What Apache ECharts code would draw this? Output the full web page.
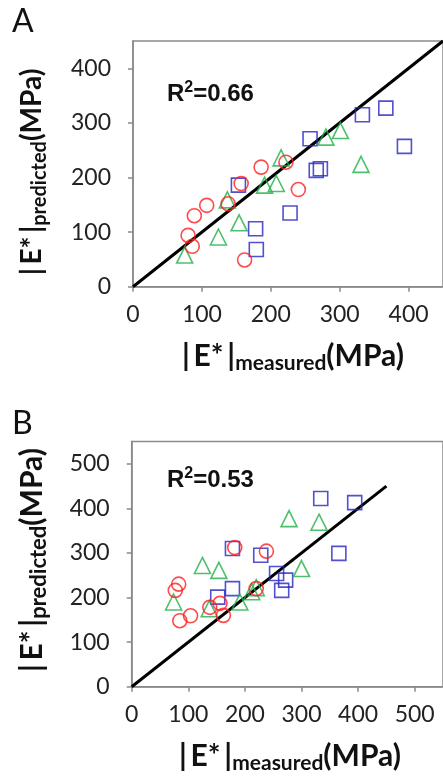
<!DOCTYPE html>
<html><head><meta charset="utf-8">
<script src="https://cdn.jsdelivr.net/npm/echarts@6/dist/echarts.min.js"></script>
<style>html,body{margin:0;padding:0;background:#fff}#c{width:443px;height:777px}</style>
</head><body><div id="c"></div>
<script>
// ---- data ----
const ticksA = [0, 100, 200, 300, 400];
const ticksB = [0, 100, 200, 300, 400, 500];
const identityLine = [0, 450];

// Panel A
const blueMeasA = [153, 178, 179, 228, 257, 266, 272, 333, 367, 394];
const bluePredA = [186, 106, 68, 135, 271, 213, 216, 315, 327, 257];
const greenMeasA = [75, 124, 137, 154, 191, 208, 215, 280, 301, 331];
const greenPredA = [58, 91, 159, 117, 186, 189, 236, 274, 286, 224];
const redMeasA = [80, 86, 89, 107, 138, 157, 162, 186, 222, 240];
const redPredA = [94, 74, 130, 149, 152, 189, 49, 219, 228, 178];

// Panel B
const blueMeasB = [152, 178, 178, 228, 256, 265, 272, 334, 366, 394];
const bluePredB = [201, 220, 310, 295, 254, 216, 239, 422, 299, 413];
const greenMeasB = [74, 125, 137, 154, 191, 212, 220, 278, 300, 331];
const greenPredB = [190, 272, 175, 261, 190, 213, 222, 377, 265, 369];
const redMeasB = [77, 83, 85, 104, 138, 156, 162, 182, 220, 238];
const redPredB = [216, 230, 148, 159, 178, 187, 160, 312, 220, 304];

const zip = (a, b) => a.map((v, i) => [v, b[i]]);

const BLUE = '#2424c4', GREEN = '#1fb048', RED = '#ff1e1e';
const AXIS = '#8a8a8a';
const FONT = 'Lato';

function axis(idx, max, ticks, isY) {
  return {
    type: 'value', gridIndex: idx, min: 0, max: max,
    axisLine: { show: true, lineStyle: { color: AXIS, width: 1.5 } },
    axisTick: { show: true, length: 5, inside: false, customValues: ticks, lineStyle: { color: AXIS, width: 1.5 } },
    axisLabel: { customValues: ticks, color: '#222', fontFamily: FONT, fontSize: 23, margin: isY ? 22 : 16 },
    splitLine: { show: false }
  };
}

function scat(idx, data, symbol, color, size) {
  return {
    type: 'scatter', xAxisIndex: idx, yAxisIndex: idx, data: data,
    symbol: symbol, symbolSize: size,
    itemStyle: { color: 'rgba(0,0,0,0)', borderColor: color, borderWidth: 1.6 },
    z: 3, silent: true
  };
}

function line(idx) {
  return {
    type: 'line', xAxisIndex: idx, yAxisIndex: idx,
    data: identityLine.map(v => [v, v]), showSymbol: false, symbol: 'none',
    lineStyle: { color: '#000', width: 3 }, z: 2, silent: true
  };
}

const titleRich = (m, s) => ({
  m: { fontFamily: FONT, fontWeight: 'bold', fontSize: m, lineHeight: 36, verticalAlign: 'middle', fill: '#111' },
  s: { fontFamily: FONT, fontWeight: 'bold', fontSize: s, lineHeight: 14, verticalAlign: 'bottom', fill: '#111' }
});
const r2Rich = {
  b: { fontFamily: 'Liberation Sans', fontWeight: 'bold', fontSize: 24, lineHeight: 28, verticalAlign: 'middle', fill: '#111' },
  p: { fontFamily: 'Liberation Sans', fontWeight: 'bold', fontSize: 16, lineHeight: 20, verticalAlign: 'top', fill: '#111' }
};
const xTitle = '{m||\u2009E*\u2009|}{s|measured}{m|(MPa)}';
const yTitle = '{m||\u2009E*\u2009|}{s|predicted}{m|(MPa)}';

const chart = echarts.init(document.getElementById('c'), null, { renderer: 'canvas' });
chart.setOption({
  animation: false,
  backgroundColor: '#fff',
  grid: [
    { left: 133, top: 41, right: -4.5, bottom: 490.3, show: true, borderColor: AXIS, borderWidth: 1.5, containLabel: false },
    { left: 131.7, top: 441.5, right: 0, bottom: 90.3, show: true, borderColor: AXIS, borderWidth: 1.5, containLabel: false }
  ],
  xAxis: [axis(0, 450, ticksA, false), axis(1, 550, ticksB, false)],
  yAxis: [axis(0, 450, ticksA, true), axis(1, 550, ticksB, true)],
  series: [
    line(0),
    scat(0, zip(blueMeasA, bluePredA), 'rect', BLUE, 14),
    scat(0, zip(greenMeasA, greenPredA), 'triangle', GREEN, 16),
    scat(0, zip(redMeasA, redPredA), 'circle', RED, 14),
    line(1),
    scat(1, zip(blueMeasB, bluePredB), 'rect', BLUE, 14),
    scat(1, zip(greenMeasB, greenPredB), 'triangle', GREEN, 16),
    scat(1, zip(redMeasB, redPredB), 'circle', RED, 14)
  ],
  graphic: [
    { type: 'text', x: 12, y: 22, style: { text: 'A', fontFamily: FONT, fontSize: 32, fill: '#111', align: 'left', verticalAlign: 'middle' } },
    { type: 'text', x: 12, y: 424, style: { text: 'B', fontFamily: FONT, fontSize: 32, fill: '#111', align: 'left', verticalAlign: 'middle' } },
    { type: 'text', x: 167, y: 94, style: { text: '{b|R}{p|2}{b|=0.66}', rich: r2Rich, align: 'left', verticalAlign: 'middle' } },
    { type: 'text', x: 167, y: 480, style: { text: '{b|R}{p|2}{b|=0.53}', rich: r2Rich, align: 'left', verticalAlign: 'middle' } },
    { type: 'text', x: 293, y: 356, style: { text: xTitle, rich: titleRich(30, 21), align: 'center', verticalAlign: 'middle' } },
    { type: 'text', x: 290, y: 756, style: { text: xTitle, rich: titleRich(30, 21), align: 'center', verticalAlign: 'middle' } },
    { type: 'text', x: 32, y: 172, rotation: Math.PI / 2, style: { text: yTitle, rich: titleRich(28, 20), align: 'center', verticalAlign: 'middle' } },
    { type: 'text', x: 32, y: 560, rotation: Math.PI / 2, style: { text: yTitle, rich: titleRich(30, 22), align: 'center', verticalAlign: 'middle' } }
  ]
});
</script>
</body></html>
